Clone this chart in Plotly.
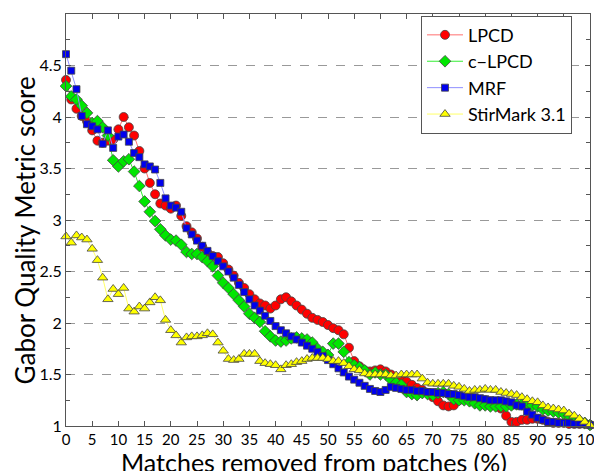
import plotly.graph_objects as go

x_pct = list(range(0, 101))

lpcd = [4.36, 4.17, 4.08, 4.01, 3.96, 3.87, 3.77, 3.75, 3.77, 3.78,
        3.88, 4.00, 3.90, 3.82, 3.67, 3.50, 3.36, 3.25, 3.16, 3.14,
        3.11, 3.14, 3.04, 2.94, 2.88, 2.82, 2.74, 2.68, 2.65, 2.64,
        2.58, 2.52, 2.46, 2.39, 2.34, 2.28, 2.23, 2.19, 2.17, 2.14,
        2.17, 2.23, 2.25, 2.21, 2.17, 2.13, 2.09, 2.05, 2.03, 2.01,
        1.98, 1.95, 1.93, 1.89, 1.76, 1.63, 1.58, 1.54, 1.53, 1.54,
        1.55, 1.53, 1.50, 1.47, 1.45, 1.43, 1.40, 1.37, 1.35, 1.32,
        1.28, 1.24, 1.20, 1.19, 1.20, 1.25, 1.27, 1.29, 1.26, 1.25,
        1.25, 1.24, 1.22, 1.17, 1.10, 1.04, 1.04, 1.06, 1.06, 1.07,
        1.07, 1.06, 1.04, 1.03, 1.03, 1.03, 1.02, 1.02, 1.02, 1.02,
        1.01]

c_lpcd = [4.30, 4.20, 4.17, 4.11, 4.04, 3.94, 3.96, 3.90, 3.82, 3.58,
          3.52, 3.57, 3.59, 3.47, 3.33, 3.18, 3.08, 2.99, 2.91, 2.85,
          2.81, 2.80, 2.76, 2.69, 2.67, 2.67, 2.64, 2.60, 2.55, 2.46,
          2.39, 2.34, 2.28, 2.22, 2.16, 2.09, 2.05, 2.01, 1.92, 1.87,
          1.83, 1.82, 1.83, 1.85, 1.86, 1.85, 1.84, 1.81, 1.75, 1.72,
          1.69, 1.80, 1.80, 1.72, 1.62, 1.59, 1.57, 1.54, 1.50, 1.52,
          1.50, 1.50, 1.45, 1.42, 1.40, 1.33, 1.31, 1.30, 1.32, 1.31,
          1.30, 1.32, 1.33, 1.31, 1.26, 1.25, 1.25, 1.24, 1.22, 1.20,
          1.20, 1.19, 1.19, 1.19, 1.19, 1.20, 1.21, 1.21, 1.21, 1.20,
          1.19, 1.16, 1.15, 1.14, 1.13, 1.12, 1.10, 1.07, 1.05, 1.03,
          1.01]

mrf = [4.61, 4.45, 4.27, 4.01, 3.93, 3.91, 3.88, 3.74, 3.87, 3.70,
       3.81, 3.83, 3.76, 3.65, 3.61, 3.54, 3.52, 3.49, 3.36, 3.21,
       3.14, 3.12, 3.08, 2.92, 2.86, 2.80, 2.75, 2.70, 2.65, 2.60,
       2.55, 2.50, 2.44, 2.37, 2.30, 2.23, 2.17, 2.12, 2.07, 2.02,
       1.97, 1.93, 1.90, 1.87, 1.84, 1.81, 1.78, 1.75, 1.72, 1.68,
       1.64, 1.60, 1.56, 1.52, 1.48, 1.45, 1.42, 1.39, 1.36, 1.34,
       1.33, 1.35, 1.38, 1.37, 1.36, 1.35, 1.35, 1.34, 1.34, 1.33,
       1.33, 1.32, 1.32, 1.31, 1.31, 1.30, 1.29, 1.28, 1.28, 1.27,
       1.26, 1.25, 1.25, 1.25, 1.24, 1.23, 1.20, 1.19, 1.14, 1.11,
       1.08, 1.06, 1.04, 1.04, 1.03, 1.03, 1.03, 1.02, 1.02, 1.02,
       1.01]

stirmark = [2.84, 2.78, 2.85, 2.83, 2.81, 2.72, 2.61, 2.44, 2.23, 2.33,
            2.28, 2.34, 2.14, 2.11, 2.16, 2.14, 2.20, 2.25, 2.22, 2.03,
            1.93, 1.88, 1.81, 1.86, 1.87, 1.87, 1.88, 1.90, 1.89, 1.81,
            1.73, 1.65, 1.64, 1.65, 1.70, 1.70, 1.70, 1.63, 1.61, 1.60,
            1.59, 1.55, 1.59, 1.60, 1.62, 1.63, 1.65, 1.66, 1.66, 1.66,
            1.65, 1.63, 1.63, 1.61, 1.58, 1.55, 1.54, 1.51, 1.50, 1.50,
            1.50, 1.50, 1.49, 1.49, 1.50, 1.50, 1.50, 1.50, 1.46, 1.42,
            1.41, 1.41, 1.41, 1.41, 1.39, 1.38, 1.36, 1.34, 1.35, 1.35,
            1.36, 1.35, 1.35, 1.33, 1.32, 1.31, 1.30, 1.28, 1.26, 1.24,
            1.23, 1.20, 1.18, 1.17, 1.16, 1.15, 1.12, 1.10, 1.07, 1.04,
            1.01]

x_ticks = list(range(0, 101, 5))
y_ticks = [1, 1.5, 2, 2.5, 3, 3.5, 4, 4.5, 5]
y_tick_labels = ["1", "1.5", "2", "2.5", "3", "3.5", "4", "4.5", "5"]
x_title = "Matches removed from patches (%)"
y_title = "Gabor Quality Metric score"

series = [
    ("LPCD", lpcd, "circle", 9, "#ff0000", "#ff7070"),
    ("c\u2212LPCD", c_lpcd, "diamond", 9, "#00e600", "#33ee33"),
    ("MRF", mrf, "square", 7, "#0000ee", "#9090ff"),
    ("StirMark 3.1", stirmark, "triangle-up", 9, "#ffff00", "#ffff66"),
]

fig = go.Figure()
for name, vals, sym, size, mcol, lcol in series:
    fig.add_trace(go.Scatter(
        x=x_pct, y=vals, name=name, mode="lines+markers",
        line=dict(color=lcol, width=1),
        marker=dict(symbol=sym, size=size, color=mcol,
                    line=dict(color="#444444", width=0.8)),
        cliponaxis=False,
    ))

font_family = "Lato, Open Sans, Liberation Sans, sans-serif"
fig.update_layout(
    width=602, height=471,
    margin=dict(l=58, r=20, t=6, b=53),
    paper_bgcolor="white", plot_bgcolor="white",
    font=dict(family=font_family, color="black"),
    showlegend=True,
    legend=dict(
        x=0.6775, y=0.996, xanchor="left", yanchor="top",
        bordercolor="#555555", borderwidth=1, bgcolor="white",
        font=dict(size=18, family=font_family),
        tracegroupgap=0, itemwidth=36,
    ),
    annotations=[
        dict(text=x_title, xref="paper", yref="paper", x=0.473, y=-0.088,
             xanchor="center", yanchor="middle", showarrow=False,
             font=dict(size=25, family=font_family)),
        dict(text=y_title, xref="paper", yref="paper", x=-0.078, y=0.475,
             xanchor="center", yanchor="middle", showarrow=False, textangle=-90,
             font=dict(size=26, family=font_family)),
    ],
)
fig.update_xaxes(
    range=[0, 100], tickvals=x_ticks, ticktext=[str(v) for v in x_ticks],
    ticks="inside", ticklen=5, tickcolor="#555555",
    showline=True, linecolor="#555555", linewidth=1, mirror="ticks",
    showgrid=False, zeroline=False, automargin=False,
    ticklabeloverflow="allow",
    tickfont=dict(size=15),
)
fig.update_yaxes(
    range=[1, 5], tickvals=y_ticks, ticktext=y_tick_labels,
    ticks="inside", ticklen=5, tickcolor="#555555",
    showline=True, linecolor="#555555", linewidth=1, mirror="ticks",
    showgrid=True, gridcolor="#999999", griddash="dash", gridwidth=1,
    zeroline=False, automargin=False,
    minor=dict(dtick=0.25, tick0=1, ticks="inside", ticklen=4, tickcolor="#555555", showgrid=False),
    tickfont=dict(size=16),
)

fig.write_html("out.html")
